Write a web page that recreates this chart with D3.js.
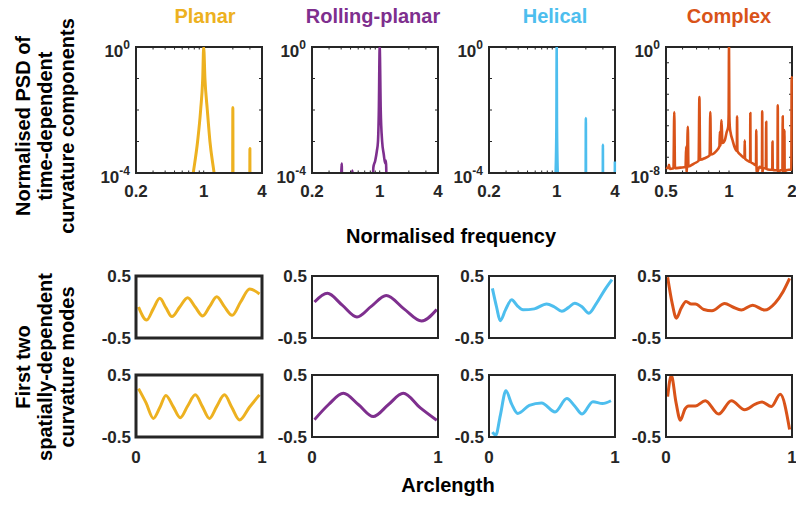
<!DOCTYPE html>
<html>
<head>
<meta charset="utf-8">
<script src="https://cdn.jsdelivr.net/npm/d3@7"></script>
<style>
  body { margin: 0; background: #fff; }
  svg { display: block; }
  text { font-family: "Liberation Sans", Arial, sans-serif; font-weight: bold; }
</style>
</head>
<body>
<svg id="chart" width="796" height="505"></svg>
<script>
// ---- Shape classes ----
const shapeNames = ["Planar", "Rolling-planar", "Helical", "Complex"];
const shapeColors = ["#EDB120", "#7E2F8E", "#4DBEEE", "#D95319"];

// ---- Normalised PSD of time-dependent curvature components ----
const planarFreq = [0.70, 0.78, 0.865, 0.93, 0.977, 1.0, 1.03, 1.09, 1.16, 1.28, 1.40,
                    1.985, 2.0, 2.015, 2.985, 3.0, 3.015];
const planarPsd  = [1e-5, 1e-4, 1e-3, 1e-2, 1e-1, 1, 1e-1, 1e-2, 1e-3, 1e-4, 1e-5,
                    1e-6, 1.2e-2, 1e-6, 1e-6, 6e-4, 1e-6];

const rollingFreq = [0.395, 0.405, 0.415, 0.515, 0.522, 0.53,
                     0.83, 0.86, 0.90, 0.935, 0.96, 0.98, 1.0, 1.025, 1.06, 1.10, 1.14, 1.16, 1.19];
const rollingPsd  = [1e-6, 2e-4, 1e-6, 1e-6, 1.2e-4, 1e-6,
                     1e-6, 1.5e-4, 2.5e-4, 5e-4, 1e-3, 1e-2, 1, 1e-2, 1e-3, 4e-4, 2e-4, 2.5e-4, 1e-6];

const helicalFreq = [0.90, 0.975, 0.993, 1.0, 1.007, 1.025, 1.10,
                     1.985, 2.0, 2.015, 2.985, 3.0, 3.015, 3.96, 3.99];
const helicalPsd  = [1e-6, 1e-4, 3e-3, 1, 3e-3, 1e-4, 1e-6,
                     1e-6, 5.6e-3, 1e-6, 1e-6, 7.8e-4, 1e-6, 1e-6, 2.3e-4];

const complexFreq = [0.500, 0.512, 0.5167, 0.521, 0.543, 0.5476, 0.552, 0.585, 0.620, 0.6242, 0.628,
                     0.6357, 0.640, 0.680, 0.716, 0.722, 0.728, 0.770, 0.808, 0.8142, 0.820, 0.870,
                     0.900, 0.9048, 0.910, 0.9214, 0.930, 0.955, 0.975, 0.991, 0.996, 1.0, 1.004,
                     1.009, 1.0165, 1.04, 1.066, 1.090, 1.093, 1.097, 1.130, 1.167, 1.186, 1.189,
                     1.193, 1.230, 1.262, 1.2645, 1.268, 1.302, 1.346, 1.350, 1.355, 1.400, 1.437,
                     1.441, 1.445, 1.452, 1.500, 1.506, 1.510, 1.560, 1.610, 1.614, 1.618, 1.660,
                     1.705, 1.710, 1.715, 1.760, 1.800, 1.806, 1.812, 1.835, 1.840, 1.845, 1.870,
                     1.930, 1.960, 1.985, 1.993, 2.0];
const complexPsd  = [2.2e-8, 2.0e-8, 3.3e-8, 1.8e-8, 2.0e-8, 7.5e-5, 2.0e-8, 2.2e-8, 2.4e-8, 4.7e-7, 1e-8,
                     8.5e-6, 2.6e-8, 4e-8, 6e-8, 6.6e-4, 7e-8, 9e-8, 1.3e-7, 7.5e-5, 1.5e-7, 2.5e-7,
                     5e-7, 4.1e-6, 5.5e-7, 2.2e-5, 8e-7, 1.2e-6, 4e-6, 8.5e-6, 5e-5, 1, 5e-5,
                     8.5e-6, 4e-6, 1.2e-6, 4e-7, 2.5e-7, 4.0e-5, 2.5e-7, 1.5e-7, 1.0e-7, 9e-8, 1.2e-6,
                     8e-8, 6e-8, 5e-8, 6.5e-5, 5e-8, 4e-8, 3e-8, 5.3e-6, 1e-8, 2.5e-8, 2e-8,
                     8.2e-5, 1e-8, 2e-8, 2e-8, 1.8e-5, 1.8e-8, 1.6e-8, 1.6e-8, 9.8e-7, 1.6e-8, 1.5e-8,
                     1.5e-8, 2.0e-4, 1e-8, 1.5e-8, 1.5e-8, 4.0e-5, 1.5e-8, 1e-8, 5.3e-6, 1e-8, 1.5e-8,
                     1.6e-8, 1.6e-8, 1.7e-8, 1.2e-2, 1e-2];

const freqDomains = [[0.2, 4], [0.2, 4], [0.2, 4], [0.5, 2]];
const freqTickLabels = [[0.2, 1, 4], [0.2, 1, 4], [0.2, 1, 4], [0.5, 1, 2]];
const psdExponents = [[0, -4], [0, -4], [0, -4], [0, -8]];

// ---- First two spatially-dependent curvature modes ----
const planarArc1 = [0.02, 0.085, 0.137, 0.189, 0.237, 0.285, 0.347, 0.41, 0.47, 0.529, 0.585, 0.641, 0.70, 0.763, 0.83, 0.902, 0.98];
const planarMode1 = [0.0, -0.21, -0.03, 0.14, -0.01, -0.155, 0.0, 0.15, 0.0, -0.145, 0.01, 0.165, 0.01, -0.135, 0.08, 0.29, 0.21];
const planarArc2 = [0.02, 0.08, 0.138, 0.19, 0.237, 0.295, 0.351, 0.41, 0.471, 0.527, 0.582, 0.64, 0.702, 0.76, 0.822, 0.90, 0.98];
const planarMode2 = [0.28, 0.05, -0.20, -0.02, 0.17, -0.01, -0.19, 0.0, 0.18, -0.01, -0.20, -0.01, 0.18, -0.02, -0.225, -0.02, 0.18];

const rollingArc1 = [0.02, 0.122, 0.24, 0.357, 0.47, 0.589, 0.73, 0.87, 0.99];
const rollingMode1 = [0.08, 0.22, 0.03, -0.16, 0.01, 0.185, -0.03, -0.225, -0.04];
const rollingArc2 = [0.02, 0.13, 0.249, 0.37, 0.486, 0.605, 0.724, 0.86, 0.99];
const rollingMode2 = [-0.22, 0.02, 0.205, 0.02, -0.17, 0.02, 0.205, -0.03, -0.23];

const helicalArc1 = [0.027, 0.06, 0.089, 0.13, 0.18, 0.225, 0.27, 0.36, 0.457, 0.52, 0.578, 0.63, 0.68, 0.74, 0.793, 0.85, 0.92, 0.976];
const helicalMode1 = [0.30, 0.0, -0.22, -0.05, 0.115, 0.02, -0.045, -0.03, 0.05, 0.0, -0.07, -0.01, 0.06, 0.0, -0.10, 0.05, 0.28, 0.44];
const helicalArc2 = [0.027, 0.054, 0.09, 0.134, 0.18, 0.228, 0.32, 0.417, 0.524, 0.618, 0.68, 0.739, 0.825, 0.90, 0.968];
const helicalMode2 = [-0.42, -0.47, -0.15, 0.245, 0.03, -0.12, 0.01, 0.05, -0.095, 0.12, 0.0, -0.13, 0.07, 0.04, 0.085];

const complexArc1 = [0.013, 0.05, 0.082, 0.12, 0.159, 0.2, 0.233, 0.30, 0.365, 0.466, 0.53, 0.598, 0.688, 0.783, 0.868, 0.93, 0.981];
const complexMode1 = [0.48, 0.05, -0.18, -0.02, 0.09, 0.05, 0.05, -0.04, -0.06, 0.055, 0.0, -0.05, 0.03, -0.05, 0.07, 0.25, 0.46];
const complexArc2 = [0.013, 0.042, 0.08, 0.114, 0.15, 0.18, 0.233, 0.312, 0.418, 0.519, 0.624, 0.709, 0.762, 0.836, 0.907, 0.981];
const complexMode2 = [0.15, 0.49, 0.05, -0.23, -0.05, 0.0, 0.0, 0.085, -0.13, 0.085, -0.06, 0.03, 0.065, -0.01, 0.19, -0.38];

const modeTickLabels = [0.5, -0.5];
const arcTickLabels = [0, 1];

// ---- Layout ----
const svg = d3.select("#chart");
const colLeft = [136, 312, 489, 666];
const colWidth = 126;
const psdTop = 47, psdBottom = 173;
const modeRows = [[276, 338], [375, 437]];
const inkColor = "#262626";
const tickFont = 17;

const spectra = [
  [planarFreq, planarPsd], [rollingFreq, rollingPsd],
  [helicalFreq, helicalPsd], [complexFreq, complexPsd]
];
const modes = [
  [[planarArc1, planarMode1], [planarArc2, planarMode2]],
  [[rollingArc1, rollingMode1], [rollingArc2, rollingMode2]],
  [[helicalArc1, helicalMode1], [helicalArc2, helicalMode2]],
  [[complexArc1, complexMode1], [complexArc2, complexMode2]]
];
const titleCenters = [205, 373, 555, 729];

const defs = svg.append("defs");

function frame(g, x0, y0, w, h, sw) {
  g.append("rect").attr("x", x0).attr("y", y0).attr("width", w).attr("height", h)
    .attr("fill", "none").attr("stroke", inkColor).attr("stroke-width", sw);
}

shapeNames.forEach((name, i) => {
  const x0 = colLeft[i], x1 = x0 + colWidth;

  // column title
  svg.append("text").attr("x", titleCenters[i]).attr("y", 23)
    .attr("text-anchor", "middle").attr("font-size", 20).attr("fill", shapeColors[i]).text(name);

  // ---- PSD panel ----
  const xs = d3.scaleLog().domain(freqDomains[i]).range([x0, x1]);
  const ys = d3.scaleLog().domain([Math.pow(10, psdExponents[i][1]), 1]).range([psdBottom, psdTop]);
  const g = svg.append("g");
  const clipId = "clip-psd-" + i;
  defs.append("clipPath").attr("id", clipId).append("rect")
    .attr("x", x0 - 1.5).attr("y", psdTop).attr("width", colWidth + 3).attr("height", psdBottom - psdTop - 1);

  // decade ticks on both vertical edges
  const e0 = psdExponents[i][1];
  for (let e = e0 + 1; e < 0; e++) {
    const y = ys(Math.pow(10, e));
    g.append("line").attr("x1", x0).attr("x2", x0 + 3).attr("y1", y).attr("y2", y).attr("stroke", inkColor).attr("stroke-width", 1);
    g.append("line").attr("x1", x1 - 3).attr("x2", x1).attr("y1", y).attr("y2", y).attr("stroke", inkColor).attr("stroke-width", 1);
  }
  // log minor ticks on both horizontal edges
  xs.ticks().forEach(t => {
    const x = xs(t);
    if (x <= x0 + 1 || x >= x1 - 1) return;
    g.append("line").attr("x1", x).attr("x2", x).attr("y1", psdBottom).attr("y2", psdBottom - 2.5).attr("stroke", inkColor).attr("stroke-width", 1);
    g.append("line").attr("x1", x).attr("x2", x).attr("y1", psdTop).attr("y2", psdTop + 2.5).attr("stroke", inkColor).attr("stroke-width", 1);
  });
  frame(g, x0, psdTop, colWidth, psdBottom - psdTop, 2);

  // spectrum line, drawn over the box
  const [fr, ps] = spectra[i];
  const pts = fr.map((f, k) => [f, ps[k]]);
  g.append("path").datum(pts)
    .attr("clip-path", `url(#${clipId})`)
    .attr("fill", "none").attr("stroke", shapeColors[i])
    .attr("stroke-width", i === 0 ? 3 : 2.6).attr("stroke-linejoin", "round")
    .attr("d", d3.line().x(d => xs(d[0])).y(d => ys(d[1])).curve(d3.curveMonotoneX));

  // x tick labels
  freqTickLabels[i].forEach(t => {
    g.append("text").attr("x", xs(t)).attr("y", 197).attr("text-anchor", "middle")
      .attr("font-size", tickFont).attr("fill", inkColor).text(t);
  });
  // y tick labels (powers of ten)
  psdExponents[i].forEach(e => {
    const y = ys(Math.pow(10, e));
    const t = g.append("text").attr("x", x0 - 6).attr("y", y + 9.5).attr("text-anchor", "end")
      .attr("font-size", tickFont).attr("fill", inkColor);
    t.append("tspan").text("10");
    t.append("tspan").attr("font-size", 12).attr("dy", -8).text(String(e));
  });

  // ---- Spatial mode panels ----
  const sx = d3.scaleLinear().domain([0, 1]).range([x0, x1]);
  modeRows.forEach(([top, bottom], r) => {
    const sy = d3.scaleLinear().domain([-0.5, 0.5]).range([bottom, top]);
    const mg = svg.append("g");
    const [arc, val] = modes[i][r];
    const mpts = arc.map((s, k) => [s, val[k]]);
    mg.append("path").datum(mpts)
      .attr("fill", "none").attr("stroke", shapeColors[i]).attr("stroke-width", 3)
      .attr("stroke-linejoin", "round")
      .attr("d", d3.line().x(d => sx(d[0])).y(d => sy(d[1])).curve(d3.curveMonotoneX));
    frame(mg, x0, top, colWidth, bottom - top, i === 0 ? 3 : 2);

    modeTickLabels.forEach(v => {
      mg.append("text").attr("x", x0 - 5).attr("y", sy(v) + 6).attr("text-anchor", "end")
        .attr("font-size", tickFont).attr("fill", inkColor).text(v);
    });
    if (r === 1) {
      arcTickLabels.forEach(v => {
        mg.append("text").attr("x", sx(v)).attr("y", 463).attr("text-anchor", "middle")
          .attr("font-size", tickFont).attr("fill", inkColor).text(v);
      });
    }
  });
});

// ---- Shared axis titles ----
svg.append("text").attr("x", 451).attr("y", 243).attr("text-anchor", "middle")
  .attr("font-size", 20).attr("fill", "#000").text("Normalised frequency");
svg.append("text").attr("x", 448).attr("y", 492).attr("text-anchor", "middle")
  .attr("font-size", 20).attr("fill", "#000").text("Arclength");

function rotatedLabel(lines, cy) {
  const baselines = [30, 52, 74];
  lines.forEach((ln, k) => {
    svg.append("text").attr("transform", `translate(${baselines[k]},${cy}) rotate(-90)`)
      .attr("text-anchor", "middle").attr("font-size", 20).attr("fill", "#000").text(ln);
  });
}
rotatedLabel(["Normalised PSD of", "time-dependent", "curvature components"], 126);
rotatedLabel(["First two", "spatially-dependent", "curvature modes"], 367);
</script>
</body>
</html>
